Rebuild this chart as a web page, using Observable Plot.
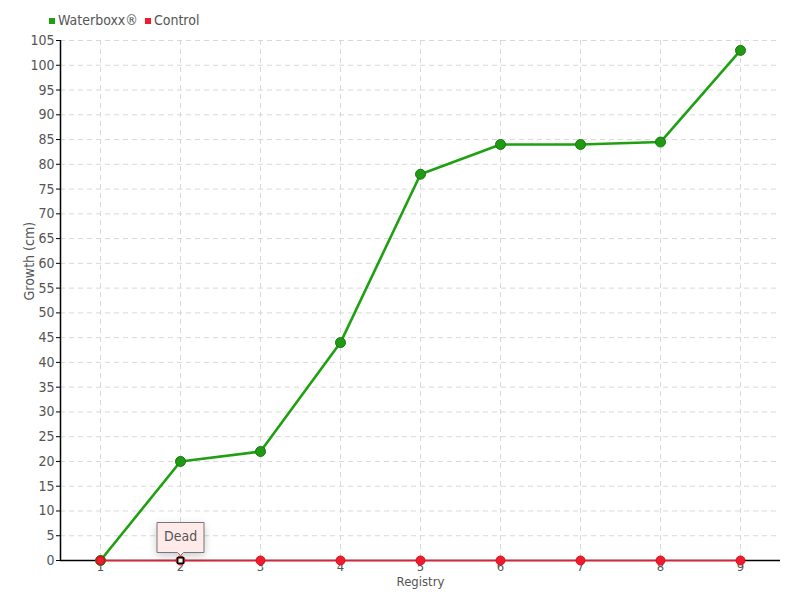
<!DOCTYPE html>
<html><head><meta charset="utf-8">
<script src="https://cdn.jsdelivr.net/npm/d3@7"></script>
<script src="https://cdn.jsdelivr.net/npm/@observablehq/plot@0.6"></script>
<style>
body{margin:0;background:#fff;font-family:"DejaVu Sans Condensed","Liberation Sans Narrow",sans-serif}
#wrap{position:relative;width:800px;height:600px}
#legend{position:absolute;left:49px;top:12px;font-size:14px;color:#555;display:flex;gap:7px;align-items:center;z-index:2}
#legend span.sw{display:inline-block;width:6px;height:6px;margin-right:3px;vertical-align:middle}
</style>
</head><body>
<div id="wrap"><div id="legend"></div><div id="chart"></div></div>
<script>
const registry = [1, 2, 3, 4, 5, 6, 7, 8, 9];
const waterboxx = [0, 20, 22, 44, 78, 84, 84, 84.5, 103];
const control = [0, 0, 0, 0, 0, 0, 0, 0, 0];
const yTicks = d3.range(0, 106, 5);
const seriesNames = ["Waterboxx®", "Control"];
const seriesColors = ["#1fa012", "#ee1c2e"];
const annotation = [{registry: 2, value: 0, text: "Dead"}];

const wb = registry.map((r, i) => ({registry: r, value: waterboxx[i]}));
const ct = registry.map((r, i) => ({registry: r, value: control[i]}));

const legend = document.getElementById("legend");
seriesNames.forEach((n, i) => {
  const d = document.createElement("div");
  d.innerHTML = `<span class="sw" style="background:${seriesColors[i]}"></span>${n}`;
  legend.appendChild(d);
});

const chart = Plot.plot({
  width: 800, height: 600,
  marginLeft: 60, marginRight: 20, marginTop: 40, marginBottom: 40,
  style: {fontFamily: '"DejaVu Sans Condensed","Liberation Sans Narrow",sans-serif', fontSize: "14px", color: "#555", background: "#fff"},
  x: {domain: [0.5, 9.5], label: null},
  y: {domain: [0, 105], label: null},
  marks: [
    Plot.gridX(registry, {stroke: "#d8d8d8", strokeOpacity: 1, strokeDasharray: "5,4"}),
    Plot.gridY(yTicks, {stroke: "#d8d8d8", strokeOpacity: 1, strokeDasharray: "5,4"}),
    Plot.axisY(yTicks, {tickSize: 4, tickPadding: 2, stroke: "#000", fill: "#555", fontSize: 14, label: null}),
    Plot.axisX(registry, {tickSize: 0, tickPadding: 1, fill: "#555", fontSize: 13, label: null}),
    Plot.ruleX([0.5], {stroke: "#000", strokeWidth: 1.5}),
    Plot.ruleY([0], {stroke: "#000", strokeWidth: 1.5}),
    Plot.text(["Growth (cm)"], {frameAnchor: "left", dx: -31, rotate: -90, fill: "#555", fontSize: 14}),
    Plot.text(["Registry"], {frameAnchor: "bottom", dy: 25, fill: "#555", fontSize: 13}),
    Plot.lineY(ct, {x: "registry", y: "value", stroke: seriesColors[1], strokeWidth: 1.5}),
    Plot.dot(ct, {x: "registry", y: "value", r: 4.5, fill: seriesColors[1], stroke: "#d8101f", strokeWidth: 1}),
    Plot.lineY(wb, {x: "registry", y: "value", stroke: seriesColors[0], strokeWidth: 2.6}),
    Plot.dot(wb, {x: "registry", y: "value", r: 5, fill: "#1f9a12", stroke: "#167a0c", strokeWidth: 1}),
    Plot.dot(ct.slice(0, 1), {x: "registry", y: "value", r: 4, fill: seriesColors[1], stroke: "#d8101f"}),
    Plot.dot(annotation, {x: "registry", y: "value", symbol: "square", r: 3.2, fill: "#fff", stroke: "#000", strokeWidth: 1.5}),
    Plot.tip(annotation, {x: "registry", y: "value", title: "text", anchor: "bottom", dy: -5, fill: "#ffeaea", stroke: "#777", fontSize: 14, textPadding: 7, pointerSize: 6})
  ]
});
document.getElementById("chart").appendChild(chart);
</script>
</body></html>
